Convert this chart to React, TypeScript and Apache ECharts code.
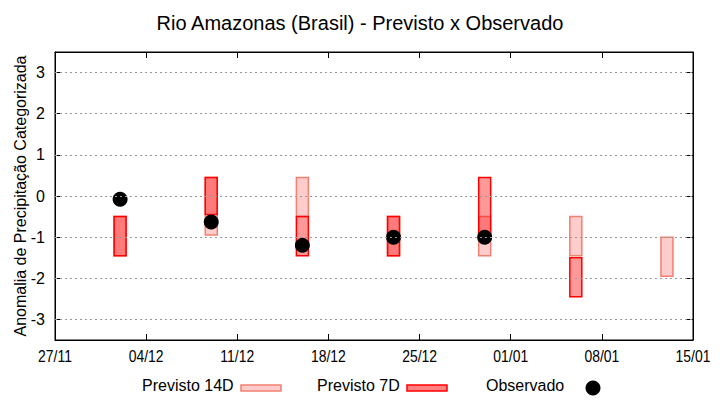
import React, { useEffect, useRef } from "react";
import * as echarts from "echarts";

const titleText = "Rio Amazonas (Brasil) - Previsto x Observado";
const yAxisName = "Anomalia de Precipitação Categorizada";
const startDate = "2023-11-27";
const xTickLabels = ["27/11", "04/12", "11/12", "18/12", "25/12", "01/01", "08/01", "15/01"];
const yTicks = [-3, -2, -1, 0, 1, 2, 3];

const dates14D = ["2023-12-02", "2023-12-09", "2023-12-16", "2023-12-23", "2023-12-30", "2024-01-06", "2024-01-13"];
const high14D = [-0.5, 0.45, 0.45, -0.5, -0.5, -0.5, -1.0];
const low14D = [-1.45, -0.95, -0.5, -1.45, -1.45, -1.45, -1.95];

const dates7D = ["2023-12-02", "2023-12-09", "2023-12-16", "2023-12-23", "2023-12-30", "2024-01-06"];
const high7D = [-0.5, 0.45, -0.5, -0.5, 0.45, -1.5];
const low7D = [-1.45, -0.45, -1.45, -1.45, -1.0, -2.45];

const datesObs = ["2023-12-02", "2023-12-09", "2023-12-16", "2023-12-23", "2023-12-30"];
const valuesObs = [-0.08, -0.63, -1.2, -1.0, -1.0];

const legendLabels = ["Previsto 14D", "Previsto 7D", "Observado"];

const DAY = 86400000;
const dayOffset = (d: string) => (Date.parse(d + "T00:00:00Z") - Date.parse(startDate + "T00:00:00Z")) / DAY;

const FONT = "'Liberation Sans', Arial, sans-serif";

const c14Fill = "#ffcccc";
const c14Line = "#f08070";
const c7Fill = "rgba(255,0,0,0.4)";
const c7Line = "#ff0000";

function makeRender(fill: string, stroke: string) {
  return (params: any, api: any) => {
    const x = api.value(0);
    const lo = api.value(1);
    const hi = api.value(2);
    const p1 = api.coord([x - 0.46, hi]);
    const p2 = api.coord([x + 0.46, lo]);
    return {
      type: "rect",
      shape: { x: p1[0], y: p1[1], width: p2[0] - p1[0], height: p2[1] - p1[1] },
      style: { fill, stroke, lineWidth: 1.5 },
    };
  };
}

export default function App() {
  const ref = useRef<HTMLDivElement>(null);
  useEffect(() => {
    if (!ref.current) return;
    const chart = echarts.init(ref.current, undefined, { renderer: "svg" });
    const data14 = dates14D.map((d, i) => [dayOffset(d), low14D[i], high14D[i]]);
    const data7 = dates7D.map((d, i) => [dayOffset(d), low7D[i], high7D[i]]);
    const dataObs = datesObs.map((d, i) => [dayOffset(d), valuesObs[i]]);
    const xMax = (xTickLabels.length - 1) * 7;

    const xBase = {
      type: "value",
      min: 0,
      max: xMax,
      interval: 7,
      splitLine: { show: false },
      axisLine: { show: true, onZero: false, lineStyle: { color: "#000", width: 1 } },
      axisTick: { show: true, inside: true, length: 6, lineStyle: { color: "#000" } },
      axisLabel: { show: false },
    };
    const yBase = {
      type: "value",
      min: -3.5,
      max: 3.5,
      splitLine: { show: false },
      axisLine: { show: true, onZero: false, lineStyle: { color: "#000", width: 1 } },
      axisTick: { show: true, inside: true, length: 6, customValues: yTicks, lineStyle: { color: "#000" } },
    };

    const legendGraphics = [
      { type: "text", left: 142, top: 377, style: { text: legendLabels[0], font: `16px ${FONT}`, fill: "#000" } },
      { type: "rect", shape: { x: 241, y: 385, width: 40, height: 6 }, style: { fill: c14Fill, stroke: c14Line, lineWidth: 1.5 } },
      { type: "text", left: 317, top: 377, style: { text: legendLabels[1], font: `16px ${FONT}`, fill: "#000" } },
      { type: "rect", shape: { x: 407, y: 385, width: 40, height: 6 }, style: { fill: "#ff8080", stroke: c7Line, lineWidth: 1.5 } },
      { type: "text", left: 486, top: 377, style: { text: legendLabels[2], font: `16px ${FONT}`, fill: "#000" } },
      { type: "circle", shape: { cx: 593, cy: 388, r: 7.5 }, style: { fill: "#000" } },
    ];

    chart.setOption({
      animation: false,
      backgroundColor: "#fff",
      title: {
        text: titleText,
        left: "center",
        top: 8,
        textStyle: { fontFamily: FONT, fontSize: 20, fontWeight: "normal", color: "#000" },
      },
      grid: { left: 55, right: 27, top: 52, bottom: 60, show: true, borderColor: "#000", borderWidth: 1, backgroundColor: "transparent" },
      xAxis: [
        { ...xBase, position: "bottom" },
        { ...xBase, position: "top" },
      ],
      yAxis: [
        {
          ...yBase,
          position: "left",
          name: yAxisName,
          nameLocation: "middle",
          nameRotate: 90,
          nameGap: 27,
          nameMoveOverlap: false,
          nameTextStyle: { fontFamily: FONT, fontSize: 16, color: "#000" },
          axisLabel: { fontFamily: FONT, fontSize: 16, color: "#000", margin: 10, customValues: yTicks },
        },
        { ...yBase, position: "right", axisLabel: { show: false } },
      ],
      series: [
        {
          type: "line",
          data: [],
          z: 1,
          silent: true,
          markLine: {
            silent: true,
            symbol: "none",
            label: { show: false },
            lineStyle: { type: [2, 3], color: "#999", width: 1 },
            data: yTicks.map((v) => ({ yAxis: v })),
          },
        },
        { type: "custom", name: legendLabels[0], z: 2, renderItem: makeRender(c14Fill, c14Line), data: data14 },
        { type: "custom", name: legendLabels[1], z: 3, renderItem: makeRender(c7Fill, c7Line), data: data7 },
        {
          type: "scatter",
          name: legendLabels[2],
          z: 4,
          symbol: "circle",
          symbolSize: 15,
          itemStyle: { color: "#000", opacity: 1 },
          data: dataObs,
        },
      ],
      graphic: legendGraphics,
    });

    // condensed x tick labels placed through the x axis scale
    const xLabelGraphics = xTickLabels.map((lab, i) => {
      const px = chart.convertToPixel({ xAxisIndex: 0 }, i * 7) as number;
      const py = chart.convertToPixel({ yAxisIndex: 0 }, -3.5) as number;
      return {
        type: "text",
        x: px,
        y: py + 7,
        scaleX: 0.82,
        style: { text: lab, font: `17px ${FONT}`, fill: "#000", align: "center", verticalAlign: "top" },
      };
    });
    chart.setOption({ graphic: [...legendGraphics, ...xLabelGraphics] });
    return () => chart.dispose();
  }, []);
  return <div ref={ref} style={{ width: 720, height: 400, position: "absolute", left: 0, top: 0 }} />;
}
